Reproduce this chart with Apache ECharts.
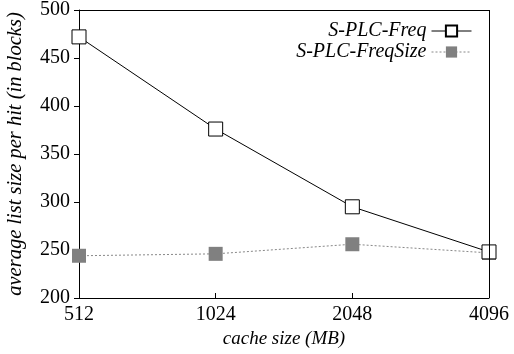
<!DOCTYPE html>
<html>
<head>
<meta charset="utf-8">
<script src="https://cdn.jsdelivr.net/npm/echarts@6/dist/echarts.min.js"></script>
<style>
  html, body { margin: 0; padding: 0; background: #fff; }
  #chart { width: 514px; height: 354px; }
</style>
</head>
<body>
<div id="chart"></div>
<script>
// cache sizes (MB)
var cacheSizes = ['512', '1024', '2048', '4096'];
// average list size per hit
var freq = [472, 376, 295, 248];
var freqSize = [244, 246, 256, 247];

var fontFam = 'Liberation Serif';

var myChart = echarts.init(document.getElementById('chart'));
var option = {
    backgroundColor: '#fff',
    animation: false,
    textStyle: { fontFamily: fontFam },
    legend: {
        right: 37,
        top: 16,
        orient: 'vertical',
        align: 'right',
        itemGap: 1,
        itemWidth: 40,
        itemHeight: 14,
        lineStyle: { width: 1 },
        textStyle: { fontFamily: fontFam, fontStyle: 'italic', fontSize: 20, color: '#000' },
        data: ['S-PLC-Freq', 'S-PLC-FreqSize']
    },
    grid: { left: 79, right: 25, top: 10, bottom: 56, containLabel: false, outerBoundsMode: 'none' },
    xAxis: {
        type: 'category',
        boundaryGap: false,
        data: cacheSizes,
        name: 'cache size (MB)',
        nameLocation: 'middle',
        nameGap: 29,
        nameTextStyle: { fontFamily: fontFam, fontStyle: 'italic', fontSize: 19, color: '#000' },
        axisLine: { lineStyle: { color: '#000', width: 1 } },
        axisTick: { show: true, inside: true, length: 5, lineStyle: { color: '#000' } },
        axisLabel: { fontFamily: fontFam, fontSize: 20, color: '#000', margin: 7 },
        splitLine: { show: false }
    },
    yAxis: {
        type: 'value',
        min: 200,
        max: 500,
        interval: 50,
        name: 'average list size per hit (in blocks)',
        nameLocation: 'middle',
        nameGap: 53,
        nameTextStyle: { fontFamily: fontFam, fontStyle: 'italic', fontSize: 20.5, color: '#000' },
        axisLine: { show: true, lineStyle: { color: '#000', width: 1 } },
        axisTick: { show: true, length: 5, lineStyle: { color: '#000' } },
        axisLabel: { fontFamily: fontFam, fontSize: 20, color: '#000', margin: 9 },
        splitLine: { show: false }
    },
    series: [
        {
            name: 'S-PLC-Freq',
            type: 'line',
            data: freq,
            symbol: 'rect',
            symbolSize: 14,
            showAllSymbol: true,
            lineStyle: { color: '#000', width: 1 },
            itemStyle: { color: '#fff', borderColor: '#000', borderWidth: 1 },
            z: 3
        },
        {
            name: 'S-PLC-FreqSize',
            type: 'line',
            data: freqSize,
            symbol: 'rect',
            symbolSize: 14,
            showAllSymbol: true,
            lineStyle: { color: '#888', width: 1, type: [2, 2] },
            itemStyle: { color: '#808080', borderWidth: 0 },
            z: 2
        },
        {
            // plot frame (top and right borders)
            type: 'line',
            data: [],
            markLine: {
                silent: true,
                symbol: 'none',
                label: { show: false },
                lineStyle: { color: '#000', width: 1, type: 'solid' },
                data: [
                    [{ coord: ['512', 500] }, { coord: ['4096', 500] }],
                    [{ coord: ['4096', 200] }, { coord: ['4096', 500] }]
                ]
            }
        }
    ]
};
myChart.setOption(option);
</script>
</body>
</html>
